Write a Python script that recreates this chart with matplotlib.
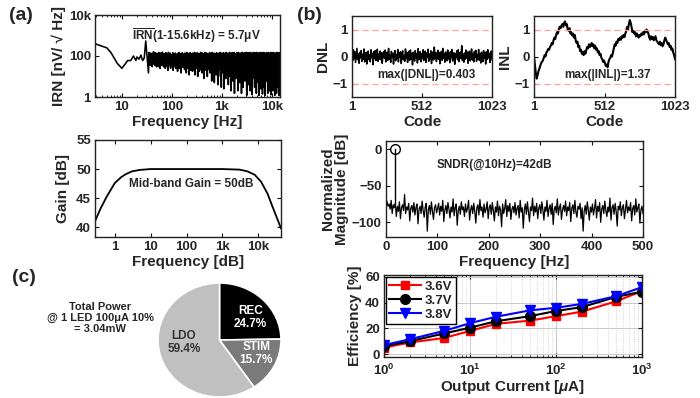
import numpy as np
import matplotlib
matplotlib.use("Agg")
import matplotlib.pyplot as plt
from matplotlib.ticker import FixedLocator, FixedFormatter, LogLocator, NullFormatter

plt.rcParams['font.family'] = ['Liberation Sans', 'DejaVu Sans']
plt.rcParams['font.weight'] = 'bold'
plt.rcParams['mathtext.fontset'] = 'custom'
plt.rcParams['mathtext.rm'] = 'Liberation Sans:bold'
plt.rcParams['mathtext.bf'] = 'Liberation Sans:bold'
plt.rcParams['mathtext.it'] = 'Liberation Sans:bold:italic'

TXT = '#262626'

# ---------------- data ----------------
# (a) IRN spectrum, low-frequency part
irn_lf_freq = [2.9, 4, 5, 6, 7, 8, 10, 12, 13, 15, 17, 19, 20, 22, 24, 26, 28, 30, 32, 34]
irn_lf_val = [400, 300, 250, 150, 80, 45, 25, 45, 60, 60, 100, 60, 90, 70, 110, 60, 80, 540, 90, 15]
# (a) IRN spectrum, 35 Hz .. 14.5 kHz (log-spaced samples)
irn_hf_val = [
    150, 45, 120, 35, 140, 60, 110, 30, 130, 50, 160, 40, 100, 35, 145, 55, 120, 30, 135, 45,
    110, 30, 150, 50, 125, 25, 140, 45, 100, 35, 155, 40, 120, 30, 135, 55, 105, 25, 145, 40,
    130, 30, 115, 20, 150, 45, 105, 35, 140, 25, 120, 50, 95, 30, 145, 20, 125, 40, 110, 30,
    140, 25, 120, 45, 100, 18, 135, 35, 150, 25, 110, 40, 130, 15, 120, 35, 145, 28, 100, 45,
    125, 22, 140, 35, 110, 15, 150, 40, 120, 25, 135, 12, 105, 38, 145, 20, 115, 30, 130, 18,
    140, 30, 110, 20, 150, 12, 125, 35, 100, 25, 145, 10, 120, 30, 135, 18, 105, 40, 150, 22,
    120, 15, 140, 30, 110, 8, 130, 25, 150, 20, 115, 35, 140, 10, 125, 22, 105, 30, 145, 15,
    135, 25, 110, 6, 150, 30, 120, 18, 140, 5, 115, 28, 130, 12, 145, 25, 105, 4, 135, 20,
    120, 30, 150, 10, 125, 3, 140, 25, 110, 15, 145, 2.5, 130, 20, 115, 8, 150, 30, 120, 12,
    140, 4, 125, 25, 150, 10, 115, 2, 135, 30, 145, 6, 120, 18, 150, 1.5, 130, 22, 110, 8,
    145, 15, 125, 2, 150, 28, 115, 5, 140, 12, 130, 1.5, 150, 25, 120, 3, 135, 18, 145, 6,
    125, 20, 150, 1.2, 135, 10, 145, 4, 120, 25, 150, 2, 130, 15, 140, 1.3, 125, 8, 150, 20,
    135, 3, 145, 12, 120, 1.5, 150, 22, 130, 5, 140, 1.2, 125, 18, 150, 2.5, 135, 10, 145, 1.4,
    120, 15, 150, 3, 140, 1.2, 130, 20, 145, 6, 125, 1.5, 150, 12, 135, 2, 140, 25, 150, 1.3,
    130, 8, 145, 2, 150, 18, 125, 1.2, 140, 5, 135, 1.5, 150, 22, 130, 3, 145, 1.2, 140, 10]
irn_hf_range = (35, 14500)

# (a) gain response
gain_freq = [0.28, 0.4, 0.6, 1, 1.5, 2, 3, 5, 10, 100, 1000, 3000, 5000, 8000, 12000, 18000, 25000, 35000, 43000]
gain_db = [41.0, 43.2, 45.3, 47.6, 48.6, 49.1, 49.6, 49.85, 50.0, 50.0, 50.0, 49.9, 49.6, 49.0, 47.8, 45.8, 43.5, 41.2, 39.8]

# (b) DNL / INL
dnl_val = [
    0.12, -0.15, 0.25, -0.08, 0.18, -0.22, 0.05, 0.30, -0.12, 0.10, -0.25, 0.15, -0.05, 0.22, -0.18, 0.08, -0.10, 0.28, -0.20, 0.03,
    0.15, -0.28, 0.10, 0.20, -0.12, 0.06, -0.20, 0.25, -0.05, 0.12, -0.30, 0.18, -0.08, 0.22, -0.15, 0.04, 0.27, -0.18, 0.09, -0.10,
    0.20, -0.12, 0.14, -0.25, 0.08, 0.18, -0.06, 0.24, -0.20, 0.02, 0.16, -0.14, 0.30, -0.10, 0.05, -0.22, 0.19, -0.04, 0.12, -0.28,
    0.10, 0.22, -0.16, 0.06, -0.08, 0.26, -0.20, 0.14, -0.02, 0.18, -0.26, 0.08, 0.21, -0.12, 0.04, -0.18, 0.28, -0.06, 0.15, -0.22,
    0.05, 0.19, -0.14, 0.24, -0.09, 0.12, -0.31, 0.16, 0.02, -0.17, 0.22, -0.05, 0.10, -0.24, 0.29, -0.12, 0.07, 0.18, -0.20, 0.11,
    -0.08, 0.25, -0.15, 0.06, 0.20, -0.22, 0.13, -0.04, 0.27, -0.18, 0.09, -0.11, 0.21, -0.26, 0.03, 0.17, -0.13, 0.35, -0.07, 0.14,
    -0.19, 0.08, 0.23, -0.10, 0.15, -0.27, 0.05, 0.19, -0.14, 0.30, -0.06, 0.11, -0.21, 0.17, 0.02, -0.16, 0.24, -0.09, 0.13, -0.23,
    0.18, -0.05, 0.26, -0.17, 0.07, 0.14, -0.29, 0.10, -0.03, 0.21, -0.12, 0.25, -0.19, 0.06, 0.16, -0.08, 0.40, -0.15, 0.09, -0.21,
    0.13, -0.10, 0.24, -0.06, 0.17, -0.25, 0.08, 0.20, -0.16, 0.04, 0.28, -0.13, 0.11, -0.20, 0.19, -0.02, 0.23, -0.18, 0.07, -0.09,
    0.26, -0.14, 0.10, -0.24, 0.16, 0.03, -0.19, 0.22, -0.07, 0.14, -0.28, 0.18, -0.11, 0.25, -0.05, 0.12, -0.22, 0.09, 0.20, -0.12]
inl_val = [
    0.0, -0.3, -0.6, -0.82, -0.7, -0.55, -0.45, -0.35, -0.25, -0.2,
    -0.15, -0.05, 0.05, 0.0, 0.15, 0.2, 0.28, 0.25, 0.35, 0.4,
    0.5, 0.45, 0.6, 0.7, 0.65, 0.8, 0.9, 0.85, 1.0, 1.1,
    1.05, 1.15, 1.2, 1.1, 1.25, 1.3, 1.15, 1.2, 1.0, 0.95,
    1.05, 0.85, 0.9, 0.78, 0.85, 0.7, 0.8, 0.6, 0.5, 0.55,
    0.35, 0.4, 0.2, 0.25, 0.1, 0.15, 0.05, 0.2, 0.1, 0.25,
    0.35, 0.3, 0.45, 0.35, 0.4, 0.5, 0.38, 0.45, 0.3, 0.4,
    0.25, 0.3, 0.15, 0.2, 0.05, 0.1, -0.05, -0.1, -0.2, -0.15,
    -0.25, -0.35, -0.3, -0.4, -0.2, -0.1, -0.05, 0.05, 0.0, 0.15,
    0.3, 0.45, 0.4, 0.55, 0.5, 0.65, 0.6, 0.7, 0.62, 0.75,
    0.7, 0.8, 0.72, 0.85, 0.95, 1.1, 1.0, 1.2, 1.35, 1.25,
    1.1, 0.9, 0.95, 0.85, 0.9, 0.75, 0.85, 0.78, 0.7, 0.8,
    0.75, 0.85, 0.8, 0.9, 0.82, 0.95, 0.9, 1.0, 0.92, 0.85,
    0.7, 0.62, 0.75, 0.65, 0.72, 0.6, 0.68, 0.75, 0.6, 0.55,
    0.5, 0.45, 0.55, 0.42, 0.5, 0.38, 0.45, 0.6, 0.7, 0.62,
    0.55, 0.45, 0.5, 0.35, 0.4, 0.25, 0.3, 0.15, 0.05, -0.1]
code_range = (1, 1023)

# (b) FFT spectrum (0..500 Hz)
fft_val = [
    -68, -72, -78, -75, -82, -70, -88, -76, -80, -74, -92, -78, -85, -72, -95, -80, -76, -84, -62, -88, -79, -83, -74, -98, -81,
    -77, -86, -73, -90, -80, -75, -102, -82, -78, -88, -71, -84, -93, -79, -74, -112, -83, -77, -89, -72, -85, -96, -80, -76, -87,
    -81, -74, -90, -78, -85, -70, -99, -83, -77, -88, -73, -82, -94, -79, -86, -68, -91, -80, -75, -104, -84, -78, -89, -72, -83,
    -79, -92, -75, -86, -81, -70, -97, -83, -77, -88, -74, -85, -101, -80, -76, -90, -69, -84, -79, -93, -75, -87, -82, -72, -95,
    -80, -76, -89, -73, -84, -98, -79, -86, -71, -91, -78, -83, -106, -75, -88, -81, -69, -92, -77, -85, -74, -96, -82, -78, -87,
    -73, -90, -81, -77, -94, -70, -86, -80, -108, -83, -75, -89, -72, -85, -99, -79, -84, -67, -91, -78, -86, -74, -95, -81, -76,
    -88, -72, -83, -97, -79, -85, -70, -92, -81, -76, -89, -74, -103, -82, -78, -87, -68, -90, -80, -75, -96, -83, -77, -85, -71,
    -91, -79, -84, -73, -99, -81, -76, -88, -70, -86, -93, -78, -82, -74, -95, -80, -112, -85, -77, -89, -72, -83, -97, -79, -86,
    -75, -90, -81, -69, -94, -78, -85, -73, -100, -82, -77, -88, -71, -84, -92, -79, -86, -67, -97, -80, -76, -89, -74, -85, -105,
    -78, -83, -72, -91, -80, -76, -95, -82, -70, -87, -79, -84, -73, -98, -81, -77, -90, -68, -86, -80, -75, -101, -83, -78, -88]
fft_range = (0, 500)
sig_freq = 18
sig_mag = 0

# (c) power breakdown
pie_labels = ['REC', 'STIM', 'LDO']
pie_pct = [24.7, 15.7, 59.4]
pie_colors = ['#000000', '#7a7a7a', '#c0c0c0']

# (c) LDO efficiency
eff_current = [1, 2, 5, 10, 20, 50, 100, 200, 500, 1000]
eff_36 = [5, 9, 12.5, 18, 23.5, 26, 29.5, 33, 41, 49]
eff_37 = [6, 10, 16, 20.5, 25.5, 29.5, 33.5, 36.5, 44.5, 48.5]
eff_38 = [7, 11.5, 18, 24, 29, 34, 36, 39, 45, 52]

# ---------------- figure ----------------
W, H = 700, 398
fig = plt.figure(figsize=(7.0, 3.98), dpi=100)


def add_ax(l, r, t, b):
    return fig.add_axes([l / W, 1 - b / H, (r - l) / W, (b - t) / H])


def style(ax, fs=9.5):
    ax.tick_params(direction='in', top=True, right=True, labelsize=fs, colors='#111',
                   labelcolor=TXT, length=3, width=0.8, pad=3)
    ax.tick_params(which='minor', direction='in', top=True, right=True, length=1.5, width=0.6)
    for s in ax.spines.values():
        s.set_linewidth(1.0)
        s.set_color('#222')
    for lab in ax.get_xticklabels() + ax.get_yticklabels():
        lab.set_fontweight('bold')


LBL = dict(fontsize=11, fontweight='bold', color=TXT)
ANN = dict(fontsize=8.5, fontweight='bold', color=TXT, ha='center', va='center')

# IRN
ax = add_ax(95, 280, 15, 97)
f_hf = np.geomspace(irn_hf_range[0], irn_hf_range[1], len(irn_hf_val))
ax.plot(list(irn_lf_freq) + list(f_hf), list(irn_lf_val) + list(irn_hf_val), color='black', lw=1.15)
ax.set_xscale('log'); ax.set_yscale('log')
ax.set_xlim(2.9, 14500); ax.set_ylim(1, 10000)
ax.set_xticks([10, 100, 1000, 10000], ['10', '100', '1k', '10k'])
ax.set_yticks([1, 100, 10000], ['1', '100', '10k'])
ax.yaxis.set_minor_locator(FixedLocator([]))
style(ax)
ax.set_xlabel('Frequency [Hz]', labelpad=1, **LBL)
ax.set_ylabel('IRN [nV/ √ Hz]', labelpad=2, **LBL)
ax.text(0.55, 0.75, r'$\overline{\mathrm{IRN}}$(1-15.6kHz) = 5.7μV', transform=ax.transAxes, **ANN)

# Gain
ax = add_ax(95, 281, 140, 237)
ax.plot(gain_freq, gain_db, color='black', lw=1.3)
ax.set_xscale('log')
ax.set_xlim(0.28, 43000); ax.set_ylim(38.3, 55)
ax.set_xticks([1, 10, 100, 1000, 10000], ['1', '10', '100', '1k', '10k'])
ax.set_yticks([40, 45, 50, 55])
style(ax)
ax.set_xlabel('Frequency [dB]', labelpad=1, **LBL)
ax.set_ylabel('Gain [dB]', labelpad=4, **LBL)
ax.text(0.52, 0.55, 'Mid-band Gain = 50dB', transform=ax.transAxes, **ANN)

# DNL
ax = add_ax(352, 492, 16, 97)
codes = np.linspace(code_range[0], code_range[1], len(dnl_val))
ax.plot(codes, dnl_val, color='black', lw=1.1)
for yv in (1, -1):
    ax.axhline(yv, color='#ff9f9f', lw=0.9, ls=(0, (5, 3)))
ax.set_xlim(1, 1023); ax.set_ylim(-1.5, 1.5)
ax.set_xticks([1, 512, 1023]); ax.set_yticks([-1, 0, 1])
style(ax)
ax.tick_params(top=False, right=False)
ax.set_xlabel('Code', labelpad=1, **LBL)
ax.set_ylabel('DNL', labelpad=2, **LBL)
ax.text(0.53, 0.27, 'max(|DNL|)=0.403', transform=ax.transAxes, **ANN)

# INL
ax = add_ax(534, 675, 16, 97)
codes = np.linspace(code_range[0], code_range[1], len(inl_val))
ax.plot(codes, inl_val, color='black', lw=1.5)
for yv in (1, -1):
    ax.axhline(yv, color='#ff9f9f', lw=0.9, ls=(0, (5, 3)))
ax.set_xlim(1, 1023); ax.set_ylim(-1.5, 1.5)
ax.set_xticks([1, 512, 1023]); ax.set_yticks([-1, 0, 1])
style(ax)
ax.tick_params(top=False, right=False)
ax.set_xlabel('Code', labelpad=1, **LBL)
ax.set_ylabel('INL', labelpad=2, **LBL)
ax.text(0.52, 0.27, 'max(|INL|)=1.37', transform=ax.transAxes, **ANN)

# FFT
ax = add_ax(386, 643, 141, 237)
ff = np.linspace(fft_range[0], fft_range[1], len(fft_val))
ax.plot(ff, fft_val, color='black', lw=0.9)
ax.plot([sig_freq, sig_freq], [-75, sig_mag], color='black', lw=1.0)
ax.plot([sig_freq], [sig_mag], marker='o', ms=7, mfc='none', mec='black', mew=1.0)
ax.set_xlim(0, 500); ax.set_ylim(-120, 11)
ax.set_xticks([0, 100, 200, 300, 400, 500]); ax.set_yticks([-100, -50, 0])
style(ax)
ax.set_xlabel('Frequency [Hz]', labelpad=1, **LBL)
ax.set_ylabel('Normalized\nMagnitude [dB]', labelpad=2, linespacing=1.0, **LBL)
ax.text(0.42, 0.75, 'SNDR(@10Hz)=42dB', transform=ax.transAxes, **ANN)

# Pie (slightly elliptical, as in the reference)
ax = fig.add_axes([158 / W, 1 - 397 / H, 123 / W, 114 / H])
wedges, _ = ax.pie(pie_pct, colors=pie_colors, startangle=90, counterclock=False,
                   wedgeprops=dict(edgecolor='white', linewidth=1.2), radius=1.0)
ax.set_xlim(-1.0, 1.0); ax.set_ylim(-1.0, 1.0)
ax.set_aspect('auto')
txtcol = ['white', 'white', '#333333']
pos = [(0.50, 0.40), (0.60, -0.23), (-0.58, -0.04)]
for lab, p, c, (x, y) in zip(pie_labels, pie_pct, txtcol, pos):
    ax.text(x, y, f'{lab}\n{p}%', ha='center', va='center', fontsize=8.5, fontweight='bold',
            color=c, linespacing=1.1)
fig.text(100 / W, 1 - 318 / H, 'Total Power\n@ 1 LED 100μA 10%\n= 3.04mW', ha='center', va='center',
         fontsize=8, fontweight='bold', color=TXT, linespacing=1.15)

# Efficiency
ax = add_ax(384, 642, 275, 357)
ax.plot(eff_current, eff_36, color='red', marker='s', ms=6, lw=1.5, label='3.6V')
ax.plot(eff_current, eff_37, color='black', marker='o', ms=7, lw=1.5, label='3.7V')
ax.plot(eff_current, eff_38, color='blue', marker='v', ms=7.5, lw=1.5, label='3.8V')
ax.set_xscale('log')
ax.set_xlim(1, 1000); ax.set_ylim(-2.3, 61.5)
ax.set_xticks([1, 10, 100, 1000])
ax.xaxis.set_major_formatter(FixedFormatter([r'$10^{0}$', r'$10^{1}$', r'$10^{2}$', r'$10^{3}$']))
ax.xaxis.set_minor_locator(LogLocator(base=10, subs=np.arange(2, 10)))
ax.xaxis.set_minor_formatter(NullFormatter())
ax.set_yticks([0, 20, 40, 60])
ax.grid(True, which='major', color='#c8c8c8', lw=0.7)
ax.grid(True, which='minor', axis='x', color='#c8c8c8', lw=0.6, ls=':')
style(ax, fs=9.5)
ax.tick_params(axis='x', pad=4)
ax.set_xlabel(r'Output Current [$\mu$A]', labelpad=0, **LBL)
ax.set_ylabel('Efficiency [%]', labelpad=2, **LBL)
leg = ax.legend(loc='upper left', fontsize=9.5, frameon=True, fancybox=False, borderpad=0.25,
                labelspacing=0.15, handlelength=2.4, handletextpad=0.3, borderaxespad=0.15)
leg.get_frame().set_edgecolor('black'); leg.get_frame().set_linewidth(1.0)
leg.get_frame().set_alpha(1.0)
for t in leg.get_texts():
    t.set_fontweight('bold'); t.set_color(TXT)

# panel labels
fig.text(9 / W, 1 - 15 / H, '(a)', fontsize=14, fontweight='bold', va='center', color=TXT)
fig.text(297 / W, 1 - 15 / H, '(b)', fontsize=14, fontweight='bold', va='center', color=TXT)
fig.text(12 / W, 1 - 278 / H, '(c)', fontsize=14, fontweight='bold', va='center', color=TXT)

fig.savefig('out.png', dpi=100)
